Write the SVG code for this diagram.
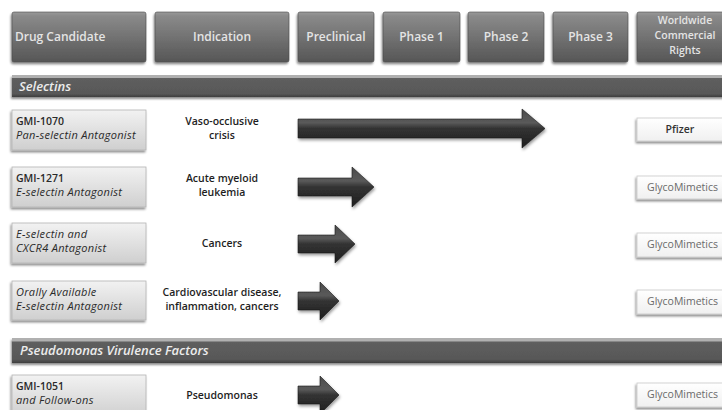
<svg xmlns="http://www.w3.org/2000/svg" width="722" height="410" viewBox="0 0 722 410">
<defs>
  <linearGradient id="gHead" x1="0" y1="0" x2="0" y2="1">
    <stop offset="0" stop-color="#9a9a9a"/>
    <stop offset="0.08" stop-color="#8a8a8a"/>
    <stop offset="1" stop-color="#565656"/>
  </linearGradient>
  <linearGradient id="gBar" x1="0" y1="0" x2="0" y2="1">
    <stop offset="0" stop-color="#b0b0b0"/>
    <stop offset="0.12" stop-color="#b0b0b0"/>
    <stop offset="0.16" stop-color="#5e5e5e"/>
    <stop offset="0.85" stop-color="#585858"/>
    <stop offset="1" stop-color="#3e3e3e"/>
  </linearGradient>
  <linearGradient id="gDrug" x1="0" y1="0" x2="0" y2="1">
    <stop offset="0" stop-color="#f2f2f2"/>
    <stop offset="1" stop-color="#cfcfcf"/>
  </linearGradient>
  <linearGradient id="gRight" x1="0" y1="0" x2="0" y2="1">
    <stop offset="0" stop-color="#ffffff"/>
    <stop offset="1" stop-color="#f0f0f0"/>
  </linearGradient>
  <linearGradient id="gArrow" x1="0" y1="0" x2="0" y2="1">
    <stop offset="0" stop-color="#4a4a4a"/>
    <stop offset="0.35" stop-color="#5a5a5a"/>
    <stop offset="0.5" stop-color="#333333"/>
    <stop offset="1" stop-color="#1e1e1e"/>
  </linearGradient>
  <filter id="shadow" x="-10%" y="-20%" width="130%" height="160%">
    <feDropShadow dx="-1" dy="2" stdDeviation="1.2" flood-color="#000" flood-opacity="0.45"/>
  </filter>
  <filter id="ashadow" x="-10%" y="-20%" width="130%" height="160%">
    <feDropShadow dx="1" dy="2" stdDeviation="1.5" flood-color="#000" flood-opacity="0.4"/>
  </filter>
  <style>
    .hd { fill: url(#gHead); stroke: #4a4a4a; stroke-width: 0.6; filter: url(#shadow); }
    .ht { font-family: "Open Sans", "DejaVu Sans", sans-serif; font-size: 12px; font-weight: 600; fill: #e4e4e4; text-anchor: middle; }
    .hs { font-size: 10.5px; }
    .hl { text-anchor: start; }
    .bar { fill: url(#gBar); filter: url(#shadow); }
    .bt { font-family: "Open Sans", "DejaVu Sans", sans-serif; font-size: 13px; font-weight: 600; font-style: italic; fill: #ececec; }
    .drug { fill: url(#gDrug); stroke: #b5b5b5; stroke-width: 0.8; filter: url(#shadow); }
    .dn { font-family: "Open Sans", "DejaVu Sans", sans-serif; font-size: 10.5px; font-weight: 600; fill: #2a2a2a; }
    .di { font-family: "Open Sans", "DejaVu Sans", sans-serif; font-size: 11px; font-style: italic; fill: #2a2a2a; letter-spacing: 0.3px; }
    .ind { font-family: "Open Sans", "DejaVu Sans", sans-serif; font-size: 10.5px; font-weight: 600; fill: #1e1e1e; text-anchor: middle; }
    .rb { fill: url(#gRight); stroke: #c8c8c8; stroke-width: 0.8; filter: url(#shadow); }
    .rt { font-family: "Open Sans", "DejaVu Sans", sans-serif; font-size: 10.5px; fill: #6a6a6a; }
    .pf { font-family: "Open Sans", "DejaVu Sans", sans-serif; font-size: 10.5px; font-weight: 600; fill: #333; text-anchor: middle; }
    .arr { fill: url(#gArrow); stroke: #1a1a1a; stroke-width: 0.6; filter: url(#ashadow); }
  </style>
</defs>
<rect width="722" height="410" fill="#ffffff"/>

<g id="header">
  <g id="h-drug"><rect class="hd" x="12" y="12" width="134" height="50" rx="2"/><text class="ht hl" x="15" y="41">Drug Candidate</text></g>
  <g id="h-indication"><rect class="hd" x="155" y="12" width="134" height="50" rx="2"/><text class="ht" x="222" y="41">Indication</text></g>
  <g id="h-preclinical"><rect class="hd" x="298" y="12" width="76" height="50" rx="2"/><text class="ht" x="336" y="41">Preclinical</text></g>
  <g id="h-phase1"><rect class="hd" x="383" y="12" width="77" height="50" rx="2"/><text class="ht" x="421.5" y="41">Phase 1</text></g>
  <g id="h-phase2"><rect class="hd" x="468" y="12" width="76" height="50" rx="2"/><text class="ht" x="506" y="41">Phase 2</text></g>
  <g id="h-phase3"><rect class="hd" x="553" y="12" width="75" height="50" rx="2"/><text class="ht" x="590.5" y="41">Phase 3</text></g>
  <g id="h-rights"><rect class="hd" x="637" y="12" width="100" height="50" rx="2"/>
    <text class="ht hs" x="685" y="24">Worldwide</text>
    <text class="ht hs" x="685" y="39">Commercial</text>
    <text class="ht hs" x="685" y="54">Rights</text></g>
</g>

<g id="sec-selectins"><rect class="bar" x="12" y="75" width="720" height="22"/><text class="bt" x="19" y="90.5">Selectins</text></g>
<g id="sec-pseudomonas"><rect class="bar" x="12" y="338" width="720" height="25"/><text class="bt" x="20" y="355">Pseudomonas Virulence Factors</text></g>

<g id="row1">
  <g id="drug1"><rect class="drug" x="12" y="110" width="134" height="40"/><text class="dn" x="16" y="125">GMI-1070</text><text class="di" x="16" y="139">Pan-selectin Antagonist</text></g>
  <g id="ind1"><text class="ind" x="222" y="125">Vaso-occlusive</text><text class="ind" x="222" y="139">crisis</text></g>
  <g id="rights1"><rect class="rb" x="637" y="118" width="95" height="23"/><text class="pf" x="680" y="133">Pfizer</text></g>
</g>
<g id="row2">
  <g id="drug2"><rect class="drug" x="12" y="167" width="134" height="40"/><text class="dn" x="16" y="182">GMI-1271</text><text class="di" x="16" y="196">E-selectin Antagonist</text></g>
  <g id="ind2"><text class="ind" x="222" y="182">Acute myeloid</text><text class="ind" x="222" y="196">leukemia</text></g>
  <g id="rights2"><rect class="rb" x="637" y="176" width="95" height="23"/><text class="rt" x="647" y="191">GlycoMimetics</text></g>
</g>
<g id="row3">
  <g id="drug3"><rect class="drug" x="12" y="223" width="134" height="40"/><text class="di" x="16" y="238">E-selectin and</text><text class="di" x="16" y="252">CXCR4 Antagonist</text></g>
  <g id="ind3"><text class="ind" x="222" y="247">Cancers</text></g>
  <g id="rights3"><rect class="rb" x="637" y="233" width="95" height="24"/><text class="rt" x="647" y="248">GlycoMimetics</text></g>
</g>
<g id="row4">
  <g id="drug4"><rect class="drug" x="12" y="281" width="134" height="39"/><text class="di" x="16" y="296">Orally Available</text><text class="di" x="16" y="310">E-selectin Antagonist</text></g>
  <g id="ind4"><text class="ind" x="222" y="296">Cardiovascular disease,</text><text class="ind" x="222" y="310">inflammation, cancers</text></g>
  <g id="rights4"><rect class="rb" x="637" y="290" width="95" height="24"/><text class="rt" x="647" y="305">GlycoMimetics</text></g>
</g>
<g id="row5">
  <g id="drug5"><rect class="drug" x="12" y="375" width="134" height="42"/><text class="dn" x="16" y="390">GMI-1051</text><text class="di" x="16" y="404">and Follow-ons</text></g>
  <g id="ind5"><text class="ind" x="222" y="399">Pseudomonas</text></g>
  <g id="rights5"><rect class="rb" x="637" y="383" width="95" height="24"/><text class="rt" x="647" y="398">GlycoMimetics</text></g>
</g>

<g id="connectors">
  <path class="arr" d="M298,119 H522 V109 L545,128.5 L522,148 V138 H298 Z"/>
  <path class="arr" d="M298,178 H352 V167 L374,187 L352,207 V196 H298 Z"/>
  <path class="arr" d="M298,235 H335 V225 L355,244 L335,263 V253 H298 Z"/>
  <path class="arr" d="M298,292 H320 V282 L339,301 L320,320 V310 H298 Z"/>
  <path class="arr" d="M298,386 H320 V376 L339,395 L320,414 V404 H298 Z"/>
</g>
</svg>
